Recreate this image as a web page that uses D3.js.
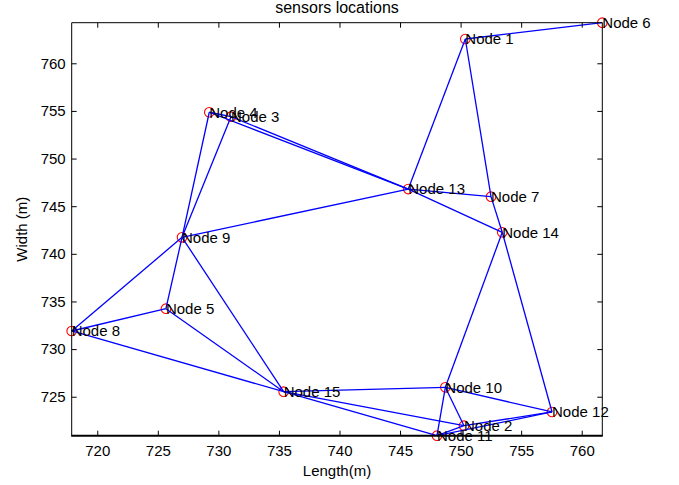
<!DOCTYPE html>
<html>
<head>
<meta charset="utf-8">
<script src="https://cdn.jsdelivr.net/npm/d3@7"></script>
<style>
  html, body { margin: 0; padding: 0; background: #fff; }
  svg { display: block; font-family: "Liberation Sans", Arial, sans-serif; }
</style>
</head>
<body>
<svg id="chart" width="679" height="485"></svg>
<script>
const nodeNames = ["Node 1","Node 2","Node 3","Node 4","Node 5","Node 6","Node 7","Node 8","Node 9","Node 10","Node 11","Node 12","Node 13","Node 14","Node 15"];
const nodeX = [750.39, 750.28, 731.04, 729.25, 725.67, 761.70, 752.51, 717.89, 727.00, 748.74, 748.05, 757.55, 745.68, 753.44, 735.39];
const nodeY = [762.55, 721.96, 754.40, 754.86, 734.24, 764.26, 746.00, 731.90, 741.73, 725.99, 720.91, 723.40, 746.80, 742.26, 725.53];
// links, 1-based node numbers
const edgeFrom = [6, 1, 1, 13, 13, 4, 3, 4, 4, 3, 9, 9, 9, 9, 5, 5, 8, 15, 15, 15, 10, 10, 10, 7, 14, 14, 12, 12, 2];
const edgeTo   = [1, 13, 7, 7, 14, 13, 13, 3, 9, 9, 13, 8, 5, 15, 8, 15, 15, 10, 2, 11, 11, 2, 12, 14, 10, 12, 2, 11, 11];
const xTicks = [720, 725, 730, 735, 740, 745, 750, 755, 760];
const yTicks = [725, 730, 735, 740, 745, 750, 755, 760];
const titleText = "sensors locations";
const xLabel = "Length(m)";
const yLabel = "Width (m)";

const L = 71.7, R = 602.3, T = 22.7, B = 435.7;
const svg = d3.select("#chart");
const x = d3.scaleLinear().domain(d3.extent(nodeX)).range([L, R]);
const y = d3.scaleLinear().domain(d3.extent(nodeY)).range([B, T]);

const g = svg.append("g");

// circles
g.selectAll("circle.node").data(nodeNames).enter().append("circle")
  .attr("cx", (d, i) => x(nodeX[i]))
  .attr("cy", (d, i) => y(nodeY[i]))
  .attr("r", 4.8)
  .attr("fill", "none")
  .attr("stroke", "#ff0000")
  .attr("stroke-width", 1.1);

// edges
g.selectAll("line.edge").data(edgeFrom).enter().append("line")
  .attr("x1", (d) => x(nodeX[d - 1]))
  .attr("y1", (d) => y(nodeY[d - 1]))
  .attr("x2", (d, i) => x(nodeX[edgeTo[i] - 1]))
  .attr("y2", (d, i) => y(nodeY[edgeTo[i] - 1]))
  .attr("stroke", "#0000ff")
  .attr("stroke-width", 1.3);

// labels
g.selectAll("text.lbl").data(nodeNames).enter().append("text")
  .attr("x", (d, i) => x(nodeX[i]))
  .attr("y", (d, i) => y(nodeY[i]))
  .attr("dy", "0.36em")
  .attr("font-size", 15)
  .attr("fill", "#000")
  .text(d => d);

// axes
const axB = svg.append("g").attr("transform", `translate(0,${B})`)
  .call(d3.axisBottom(x).tickValues(xTicks).tickSize(-5).tickPadding(10).tickFormat(d3.format("d")));
const axT = svg.append("g").attr("transform", `translate(0,${T})`)
  .call(d3.axisTop(x).tickValues(xTicks).tickSize(-5).tickFormat(""));
const axL = svg.append("g").attr("transform", `translate(${L},0)`)
  .call(d3.axisLeft(y).tickValues(yTicks).tickSize(-5).tickPadding(6).tickFormat(d3.format("d")));
const axR = svg.append("g").attr("transform", `translate(${R},0)`)
  .call(d3.axisRight(y).tickValues(yTicks).tickSize(-5).tickFormat(""));

[axB, axT, axL, axR].forEach(a => {
  a.select(".domain").remove();
  a.selectAll(".tick line").attr("stroke", "#000").attr("stroke-width", 1);
  a.selectAll(".tick text").attr("font-size", 15).attr("fill", "#000")
    .attr("font-family", "Liberation Sans, Arial, sans-serif");
});

// box
svg.append("line").attr("x1", L).attr("x2", R).attr("y1", T).attr("y2", T).attr("stroke", "#000").attr("stroke-width", 1);
svg.append("line").attr("x1", R).attr("x2", R).attr("y1", T).attr("y2", B).attr("stroke", "#000").attr("stroke-width", 1);
svg.append("line").attr("x1", L).attr("x2", L).attr("y1", T).attr("y2", B).attr("stroke", "#000").attr("stroke-width", 1);
svg.append("line").attr("x1", L - 0.5).attr("x2", R + 0.5).attr("y1", B).attr("y2", B).attr("stroke", "#000").attr("stroke-width", 2);

// title & labels
svg.append("text").attr("x", (L + R) / 2).attr("y", 13).attr("text-anchor", "middle")
  .attr("font-size", 16).attr("fill", "#000").text(titleText);
svg.append("text").attr("x", (L + R) / 2).attr("y", 476).attr("text-anchor", "middle")
  .attr("font-size", 15).attr("fill", "#000").text(xLabel);
svg.append("text").attr("transform", `translate(27,${(T + B) / 2}) rotate(-90)`).attr("text-anchor", "middle")
  .attr("font-size", 15).attr("fill", "#000").text(yLabel);
</script>
</body>
</html>
